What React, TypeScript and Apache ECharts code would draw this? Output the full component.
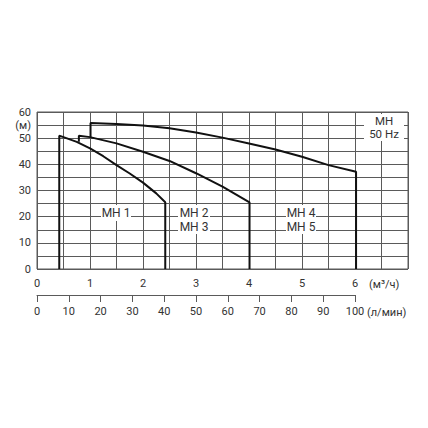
import React, { useEffect, useRef } from "react";
import * as echarts from "echarts";

// Flow in m³/h, head in m
const mh1: [number, number][] = [
  [0.42, 0], [0.42, 50.9], [0.5, 50.4], [0.75, 48.6], [1.0, 46.1], [1.25, 43.1],
  [1.5, 39.7], [1.75, 36.5], [2.0, 33.0], [2.25, 28.9], [2.42, 25.5], [2.42, 0],
];
const mh23: [number, number][] = [
  [0.79, 48.6], [0.79, 50.9], [1.0, 50.4], [1.5, 48.0], [2.0, 44.8], [2.5, 41.3],
  [3.0, 36.6], [3.5, 31.5], [4.01, 25.5], [4.01, 0],
];
const mh45: [number, number][] = [
  [1.01, 50.4], [1.01, 55.8], [1.5, 55.4], [2.0, 54.8], [2.5, 53.8], [3.0, 52.2],
  [3.5, 50.2], [4.0, 48.0], [4.5, 45.7], [5.0, 42.9], [5.5, 39.7], [6.02, 37.2], [6.02, 0],
];
const flowM3Labels = [0, 1, 2, 3, 4, 5, 6];
const headLabels = [0, 10, 20, 30, 40, 50, 60];
const headUnit = "(м)";
const flowM3Unit = "(м³/ч)";
const flowLUnit = "(л/мин)";
const curveLabels = ["MH 1", "MH 2", "MH 3", "MH 4", "MH 5"];
const titleLines = ["MH", "50 Hz"];

const FONT = "Roboto, 'Noto Sans', sans-serif";
const TXT = "#333";
const GRIDC = "#5a5a5a";

export default function App() {
  const ref = useRef<HTMLDivElement>(null);
  useEffect(() => {
    if (!ref.current) return;
    const chart = echarts.init(ref.current, undefined, { renderer: "svg" });
    const seriesStyle = (data: [number, number][], name: string) => ({
      type: "line",
      name,
      data,
      xAxisIndex: 0,
      yAxisIndex: 0,
      showSymbol: false,
      symbol: "none",
      smooth: false,
      lineStyle: { color: "#111", width: 2 },
      z: 5,
    });
    const box = (x: number, y: number, w: number, h: number) => ({
      type: "rect",
      shape: { x, y, width: w, height: h },
      style: { fill: "#fff" },
      z: 3,
    });
    const txt = (t: string, x: number, y: number, size = 12, align = "center") => ({
      type: "text",
      x,
      y,
      style: {
        text: t,
        fill: TXT,
        font: `${size}px ${FONT}`,
        align,
        verticalAlign: "middle",
      },
      z: 4,
    });
    chart.setOption({
      animation: false,
      grid: [
        { left: 37, right: 20, top: 112, bottom: 159, show: true, borderColor: GRIDC, borderWidth: 1 },
        { left: 37, width: 318, top: 280, height: 15 },
      ],
      xAxis: [
        {
          type: "value",
          gridIndex: 0,
          min: 0,
          max: 7,
          interval: 0.5,
          axisLine: { show: false },
          axisTick: { show: false },
          splitLine: { show: true, lineStyle: { color: GRIDC, width: 1 } },
          axisLabel: {
            margin: 9,
            fontSize: 11,
            color: TXT,
            fontFamily: FONT,
            formatter: (v: number) => (flowM3Labels.includes(v) ? String(v) : ""),
          },
        },
        {
          type: "value",
          gridIndex: 1,
          min: 0,
          max: 100,
          interval: 10,
          axisLine: { show: true, lineStyle: { color: GRIDC, width: 1 } },
          axisTick: { show: true, length: 7, lineStyle: { color: GRIDC } },
          splitLine: { show: false },
          axisLabel: { margin: 11, fontSize: 11, color: TXT, fontFamily: FONT },
        },
      ],
      yAxis: [
        {
          type: "value",
          gridIndex: 0,
          min: 0,
          max: 60,
          interval: 5,
          axisLine: { show: false },
          axisTick: { show: false },
          splitLine: { show: true, lineStyle: { color: GRIDC, width: 1 } },
          axisLabel: {
            margin: 6,
            fontSize: 11,
            color: TXT,
            fontFamily: FONT,
            formatter: (v: number) =>
              headLabels.includes(v) ? String(v) : v === 55 ? headUnit : "",
          },
        },
        { type: "value", gridIndex: 1, show: false, min: 0, max: 1 },
      ],
      series: [
        seriesStyle(mh1, "MH 1"),
        seriesStyle(mh23, "MH 2/3"),
        seriesStyle(mh45, "MH 4/5"),
      ],
      graphic: [
        box(101, 205, 30, 16),
        box(178, 205, 32, 29),
        box(286, 205, 30, 29),
        box(364, 114, 40, 27),
        txt(curveLabels[0], 116, 213),
        txt(curveLabels[1], 194, 213),
        txt(curveLabels[2], 194, 227),
        txt(curveLabels[3], 301, 213),
        txt(curveLabels[4], 301, 227),
        txt(titleLines[0], 384, 120.5, 11.5),
        txt(titleLines[1], 384, 134, 11.5),
        txt(flowM3Unit, 369, 284, 11, "left"),
        txt(flowLUnit, 367, 312, 11, "left"),
      ],
    });
    return () => chart.dispose();
  }, []);
  return (
    <div
      ref={ref}
      style={{ position: "fixed", left: 0, top: 0, width: 428, height: 428, background: "#fff" }}
    />
  );
}
